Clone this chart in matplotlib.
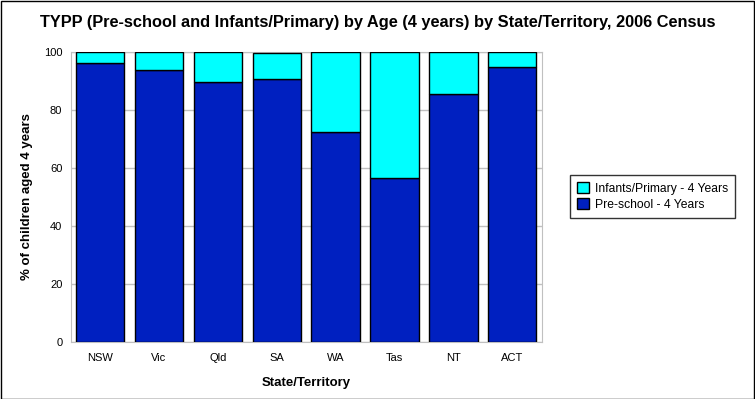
import matplotlib
matplotlib.use("Agg")
import matplotlib.pyplot as plt
from matplotlib.patches import Rectangle

states = ["NSW", "Vic", "Qld", "SA", "WA", "Tas", "NT", "ACT"]
preschool = [96.2, 93.8, 89.6, 90.7, 72.4, 56.5, 85.5, 94.8]
infants = [3.8, 6.2, 10.4, 9.0, 27.6, 43.5, 14.5, 5.2]

plt.rcParams['font.family'] = ['Liberation Sans', 'DejaVu Sans']

W, H = 755, 399
fig = plt.figure(figsize=(W/100, H/100), dpi=100)
fig.patch.set_facecolor('white')
fig.add_artist(Rectangle((0.5/W, 0.5/H), 1-1.5/W, 1-1.5/H, transform=fig.transFigure,
                         fill=False, edgecolor='black', linewidth=1))

L, R, T, B = 70.7, 541.7, 52.3, 341.7
ax = fig.add_axes([L/W, 1-B/H, (R-L)/W, (B-T)/H])
x = range(len(states))
b1 = ax.bar(x, preschool, width=0.82, color='#0020C0', edgecolor='black', linewidth=1,
            label='Pre-school - 4 Years', zorder=3)
b2 = ax.bar(x, infants, bottom=preschool, width=0.82, color='#00FFFF', edgecolor='black',
            linewidth=1, label='Infants/Primary - 4 Years', zorder=3)
ax.set_xlim(-0.5, len(states)-0.5)
ax.set_ylim(0, 100)
ax.set_yticks(range(0, 101, 20))
ax.set_xticks(list(x))
ax.set_xticklabels(states)
ax.yaxis.grid(True, color='#C0C0C0', linewidth=1, zorder=0)
ax.set_axisbelow(True)
for s in ax.spines.values():
    s.set_color('#C0C0C0')
ax.tick_params(axis='both', length=0, labelsize=8, pad=8)
ax.tick_params(axis='y', pad=6)
ax.set_xlabel('State/Territory', fontsize=9.5, fontweight='bold', labelpad=10)
ax.set_ylabel('% of children aged 4 years', fontsize=9.5, fontweight='bold', labelpad=8)

fig.text(377.5/W, 1-22/H, 'TYPP (Pre-school and Infants/Primary) by Age (4 years) by State/Territory, 2006 Census',
         ha='center', va='center', fontsize=11.8, fontweight='bold')

leg = fig.legend(handles=[b2, b1], labels=['Infants/Primary - 4 Years', 'Pre-school - 4 Years'],
                 loc='center', bbox_to_anchor=((569.3+735.7)/2/W, 1-(174+219)/2/H),
                 fontsize=8.7, frameon=True, fancybox=False, edgecolor='black',
                 handlelength=1.0, handleheight=1.0, handletextpad=0.5, borderpad=0.6,
                 labelspacing=0.3)
leg.get_frame().set_linewidth(1)

fig.savefig('out.png', dpi=100)
